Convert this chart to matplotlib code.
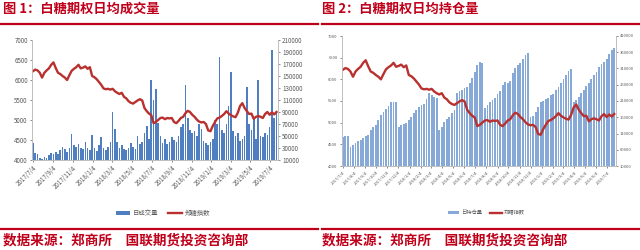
import numpy as np
import pandas as pd
import matplotlib
matplotlib.use('Agg')
import matplotlib.pyplot as plt

plt.rcParams['font.family'] = ['Noto Sans CJK SC', 'DejaVu Sans']

# weekly readings, first week 2017/7/4
start = '2017-07-04'

# 郑糖指数 (left axis)
sugar_index = [6220, 6260, 6240, 6180,
               6060, 6180, 6240, 6290, 6380,
               6440, 6300, 6180, 6150,
               6100, 6060, 6000, 6120, 6230,
               6280, 6320, 6380, 6290,
               6310, 6340, 6280, 6320,
               6100, 6070, 6020, 5950, 5880,
               5790, 5770, 5780, 5760,
               5780, 5720, 5680, 5650,
               5680, 5580, 5540, 5470,
               5430, 5410, 5450, 5490, 5520,
               5490, 5300, 5220, 5160,
               5120, 4920, 4950, 5000, 5050,
               5060, 5020, 5050, 5040,
               5050, 4950, 4920, 4980,
               5050, 5080, 5170, 5230, 5200,
               5130, 5080, 5010, 4960,
               4940, 4950, 4900, 4740,
               4720, 4850, 4950, 5040, 5060,
               5100, 5150, 5220, 5160,
               5120, 5090, 5070, 5180,
               5350, 5420, 5300, 5220, 5150,
               5160, 5030, 5080, 5100,
               5080, 5050, 5150, 5200,
               5130, 5190, 5140, 5200]

# 日成交量 (right axis, fig 1)
volume = [38000, 22000, 20000, 14000, 12000, 15000, 14000, 18000, 22000, 20000,
          24000, 20000, 26000, 32000, 28000, 24000, 30000, 54000, 35000, 32000,
          36000, 30000, 28000, 40000, 30000, 26000, 52000, 30000, 25000, 35000,
          48000, 30000, 26000, 32000, 40000, 90000, 62000, 40000, 30000, 35000,
          28000, 26000, 30000, 38000, 32000, 28000, 50000, 36000, 40000, 55000,
          66000, 45000, 143000, 110000, 129000, 72000, 50000, 38000, 45000, 36000,
          40000, 48000, 44000, 40000, 50000, 65000, 70000, 135000, 80000, 60000,
          55000, 58000, 50000, 70000, 62000, 42000, 38000, 35000, 40000, 45000,
          76000, 70000, 182000, 60000, 55000, 70000, 100000, 157000, 58000, 50000,
          55000, 42000, 45000, 50000, 132000, 70000, 60000, 80000, 45000, 143000,
          50000, 48000, 55000, 52000, 65000, 193000, 80000, 90000]

# 日持仓量 (right axis, fig 2)
open_interest = [100000, 102000, 103000, 70000, 75000, 80000, 86000, 90000, 96000, 101000,
                 106000, 120000, 131000, 136000, 152000, 167000, 177000, 186000, 195000, 206000,
                 208000, 208000, 131000, 135000, 138000, 142000, 150000, 160000, 172000, 182000,
                 192000, 198000, 200000, 215000, 234000, 228000, 222000, 218000, 121000, 130000,
                 145000, 155000, 162000, 172000, 182000, 236000, 240000, 245000, 250000, 254000,
                 265000, 280000, 298000, 320000, 330000, 326000, 187000, 198000, 208000, 212000,
                 220000, 230000, 240000, 259000, 267000, 266000, 270000, 295000, 310000, 321000,
                 326000, 338000, 350000, 359000, 160000, 165000, 175000, 190000, 207000, 210000,
                 216000, 220000, 228000, 230000, 244000, 254000, 266000, 278000, 290000, 302000,
                 307000, 208000, 212000, 222000, 235000, 245000, 256000, 265000, 278000, 290000,
                 300000, 314000, 323000, 330000, 338000, 355000, 368000, 372000]

ticks_1 = ['2017/7/4', '2017/9/4', '2017/11/4', '2018/1/4', '2018/3/4', '2018/5/4',
           '2018/7/4', '2018/9/4', '2018/11/4', '2019/1/4', '2019/3/4', '2019/5/4',
           '2019/7/4']
ticks_2 = ['2017/7/4', '2017/8/4', '2017/9/4', '2017/10/4', '2017/11/4', '2017/12/4',
           '2018/1/4', '2018/2/4', '2018/3/4', '2018/4/4', '2018/5/4', '2018/6/4',
           '2018/7/4', '2018/8/4', '2018/9/4', '2018/10/4', '2018/11/4', '2018/12/4',
           '2019/1/4', '2019/2/4', '2019/3/4', '2019/4/4', '2019/5/4', '2019/6/4',
           '2019/7/4']

dates = pd.date_range(start, periods=len(sugar_index), freq='7D')

RED = '#c0001a'
LINE = '#b8312f'
GRAY = '#595959'


def panel(rect, bars, bar_color, bar_label, ylim_r, yticks_r, tick_labels, fs):
    ax_l = fig.add_axes(rect)
    ax_r = ax_l.twinx()
    ax_r.bar(dates, bars, width=5, color=bar_color, label=bar_label)
    ax_l.plot(dates, sugar_index, color=LINE, lw=1.7, label='郑糖指数')
    ax_l.set_zorder(ax_r.get_zorder() + 1)
    ax_l.patch.set_visible(False)

    ax_l.set_ylim(4000, 7000)
    ax_l.set_yticks(np.arange(4000, 7001, 500))
    ax_r.set_ylim(*ylim_r)
    ax_r.set_yticks(yticks_r)
    xt = pd.to_datetime(tick_labels, format='%Y/%m/%d')
    ax_l.set_xticks(xt)
    ax_l.set_xticklabels(tick_labels, rotation=45, ha='right', rotation_mode='anchor')
    ax_l.set_xlim(pd.Timestamp('2017-07-01'), pd.Timestamp('2019-07-27'))
    for ax in (ax_l, ax_r):
        ax.tick_params(labelsize=fs, colors=GRAY, length=1.5, width=0.5, pad=1.5)
        for s in ax.spines.values():
            s.set_color('#bfbfbf')
            s.set_linewidth(0.6)
        ax.spines['top'].set_visible(False)
    return ax_l, ax_r


fig = plt.figure(figsize=(6.4, 2.5), dpi=100)

a1, b1 = panel([0.05, 0.36, 0.384, 0.48], volume, '#4f7fc0', '日成交量',
               (10000, 210000), np.arange(10000, 210001, 20000), ticks_1, 4.5)
a2, b2 = panel([0.534, 0.336, 0.428, 0.52], open_interest, '#86a9d8', '日持仓量',
               (10000, 410000), np.arange(10000, 410001, 50000), ticks_2, 3)

for a, b, x, fs in ((a1, b1, 0.255, 4.6), (a2, b2, 0.76, 3.8)):
    h1, l1 = b.get_legend_handles_labels()
    h2, l2 = a.get_legend_handles_labels()
    fig.legend(h1 + h2, l1 + l2, loc='center', bbox_to_anchor=(x, 1 - 213 / 250),
               ncol=2, frameon=False, fontsize=fs, handlelength=2.2, handleheight=0.5,
               columnspacing=1.5, handletextpad=0.4, labelcolor=GRAY)

# titles, rules and source notes
fig.text(3 / 640, 1 - 9 / 250, '图 1：白糖期权日均成交量', color=RED, fontsize=9.5,
         fontweight='bold', va='center', ha='left')
fig.text(322 / 640, 1 - 9 / 250, '图 2：白糖期权日均持仓量', color=RED, fontsize=9.5,
         fontweight='bold', va='center', ha='left')
for x0, x1 in ((0, 318 / 640), (322 / 640, 1)):
    for y in (1 - 24 / 250, 1 - 229 / 250):
        fig.add_artist(plt.Line2D([x0, x1], [y, y], color=RED, lw=1.6))
fig.text(3 / 640, 1 - 240 / 250, '数据来源：郑商所　国联期货投资咨询部', color=RED,
         fontsize=9.8, fontweight='bold', va='center', ha='left')
fig.text(322 / 640, 1 - 240 / 250, '数据来源：郑商所　国联期货投资咨询部', color=RED,
         fontsize=9.8, fontweight='bold', va='center', ha='left')

fig.savefig('out.png', dpi=100)
